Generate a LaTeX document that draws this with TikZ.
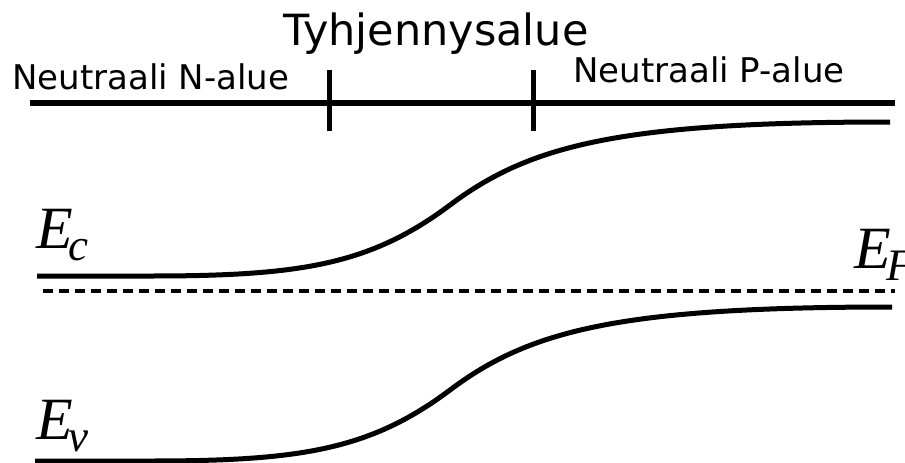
\documentclass[tikz,border=0pt]{standalone}
\usepackage{fontspec}
\setmainfont{DejaVu Sans}
\newfontfamily\timesfont{Liberation Serif}
\usetikzlibrary{positioning}
\newcommand\lev[1]{{\timesfont\itshape\fontsize{60}{60}\selectfont E\kern-4pt\raisebox{-12pt}{\fontsize{45}{45}\selectfont #1}}}

\begin{document}
\begin{tikzpicture}[x=1pt,y=-1pt,
  band/.style={line width=5pt},
  lbl/.style={inner sep=0pt,anchor=base west,font=\fontsize{34}{34}\selectfont},
  lev/.style={inner sep=0pt,anchor=base west}]
\useasboundingbox (0,0) rectangle (905,463);
% position axis and the borders of the depletion region
\coordinate (l) at (30,103);
\coordinate (r) at (895,103);
\coordinate (nb) at (329,103);
\coordinate (pb) at (533,103);
\draw[line width=5.5pt] (l) -- (r);
\draw[band] (nb) ++(0,-33) -- ++(0,61);
\draw[band] (pb) ++(0,-33) -- ++(0,61);
\node (dep) [inner sep=0pt,anchor=base,font=\fontsize{43}{43}\selectfont] at (436,45) {Tyhjennysalue};
\node (nreg) [lbl] at (12,89) {Neutraali N-alue};
\node (preg) [lbl] at (573,82) {Neutraali P-alue};
% band edges
\draw[band] (37,276) -- (150,276) .. controls (300,276) and (370,265) .. (450,205)
  .. controls (530,145) and (620,122) .. (890,122);
\draw[band] (35,461) -- (150,461) .. controls (300,461) and (370,450) .. (450,390)
  .. controls (530,330) and (620,307) .. (892,307);
% Fermi level
\draw[line width=4.5pt,dash pattern=on 10pt off 6pt] (43,291) -- (895,291);
\node (ec) [lev] at (36,248) {\lev{c}};
\node (ev) [lev] at (36,439) {\lev{v}};
\node (ef) [lev] at (854,268) {\lev{F}};
\end{tikzpicture}
\end{document}
